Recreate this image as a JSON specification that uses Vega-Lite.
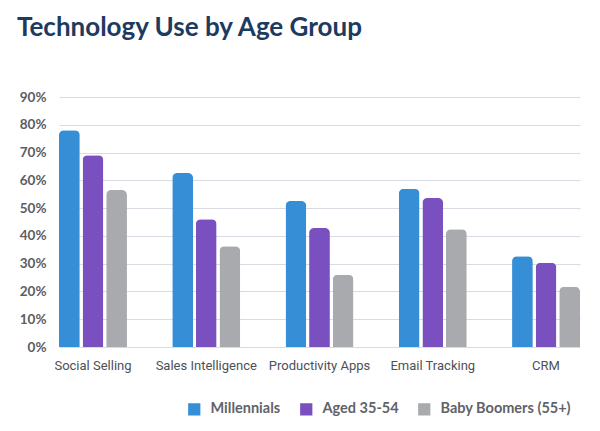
{
  "$schema": "https://vega.github.io/schema/vega-lite/v6.json",
  "width": 521,
  "height": 250,
  "autosize": {"type": "none"},
  "padding": {"left": 59, "top": 97, "right": 20, "bottom": 84},
  "background": "white",
  "title": {
    "text": "Technology Use by Age Group",
    "anchor": "start",
    "frame": "group",
    "dx": -42,
    "offset": 49,
    "font": "Lato",
    "fontSize": 26,
    "fontWeight": "bold",
    "color": "#1d3a5f"
  },
  "data": {
    "values": [
      {"tool": "Social Selling", "group": "Millennials", "value": 78},
      {"tool": "Social Selling", "group": "Aged 35-54", "value": 69},
      {"tool": "Social Selling", "group": "Baby Boomers (55+)", "value": 56.5},
      {"tool": "Sales Intelligence", "group": "Millennials", "value": 62.6},
      {"tool": "Sales Intelligence", "group": "Aged 35-54", "value": 46},
      {"tool": "Sales Intelligence", "group": "Baby Boomers (55+)", "value": 36.3},
      {"tool": "Productivity Apps", "group": "Millennials", "value": 52.6},
      {"tool": "Productivity Apps", "group": "Aged 35-54", "value": 42.8},
      {"tool": "Productivity Apps", "group": "Baby Boomers (55+)", "value": 26},
      {"tool": "Email Tracking", "group": "Millennials", "value": 57},
      {"tool": "Email Tracking", "group": "Aged 35-54", "value": 53.6},
      {"tool": "Email Tracking", "group": "Baby Boomers (55+)", "value": 42.4},
      {"tool": "CRM", "group": "Millennials", "value": 32.7},
      {"tool": "CRM", "group": "Aged 35-54", "value": 30.3},
      {"tool": "CRM", "group": "Baby Boomers (55+)", "value": 21.7}
    ]
  },
  "mark": {"type": "bar", "cornerRadiusTopLeft": 5, "cornerRadiusTopRight": 5},
  "encoding": {
    "x": {
      "field": "tool",
      "type": "nominal",
      "sort": null,
      "scale": {"paddingInner": 0.4, "paddingOuter": 0},
      "axis": {
        "title": null,
        "labelAngle": 0,
        "domain": false,
        "ticks": false,
        "labelPadding": 12,
        "labelFont": "Roboto",
        "labelFontSize": 13,
        "labelColor": "#4c5157"
      }
    },
    "xOffset": {
      "field": "group",
      "type": "nominal",
      "sort": ["Millennials", "Aged 35-54", "Baby Boomers (55+)"],
      "scale": {"paddingInner": 0.12, "paddingOuter": 0}
    },
    "y": {
      "field": "value",
      "type": "quantitative",
      "scale": {"domain": [0, 90]},
      "axis": {
        "title": null,
        "values": [0, 10, 20, 30, 40, 50, 60, 70, 80, 90],
        "labelExpr": "datum.value + '%'",
        "domain": false,
        "ticks": false,
        "labelOverlap": false,
        "labelPadding": 13,
        "labelFont": "Lato",
        "labelFontWeight": "bold",
        "labelFontSize": 13.5,
        "labelColor": "#5a5e63",
        "gridColor": "#d8dce2",
        "gridWidth": 1
      }
    },
    "color": {
      "field": "group",
      "type": "nominal",
      "sort": ["Millennials", "Aged 35-54", "Baby Boomers (55+)"],
      "scale": {
        "domain": ["Millennials", "Aged 35-54", "Baby Boomers (55+)"],
        "range": ["#368fd6", "#7a4fbf", "#a8aaad"]
      },
      "legend": {
        "title": null,
        "orient": "none",
        "direction": "horizontal",
        "legendX": 128,
        "legendY": 305,
        "symbolType": "square",
        "symbolSize": 150,
        "symbolStrokeWidth": 0,
        "labelFont": "Lato",
        "labelFontWeight": "bold",
        "labelFontSize": 14.5,
        "labelColor": "#5f6368",
        "labelOffset": 9,
        "columnPadding": 18
      }
    }
  },
  "config": {"view": {"stroke": null}}
}
